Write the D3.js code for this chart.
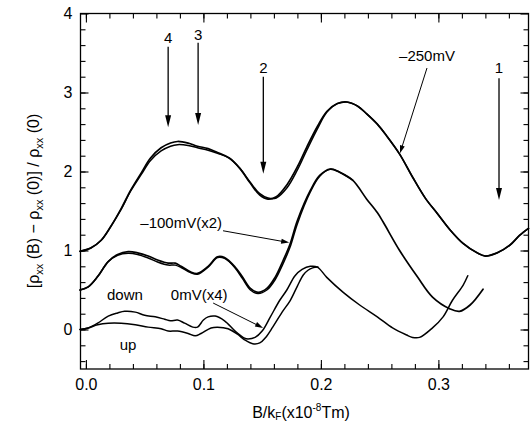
<!DOCTYPE html>
<html><head><meta charset="utf-8">
<script src="https://cdn.jsdelivr.net/npm/d3@7"></script>
<style>
body{margin:0;background:#fff}
svg{display:block}
text{font-family:"Liberation Sans",Arial,Helvetica,sans-serif;fill:#000}
</style>
</head><body>
<svg id="c" width="530" height="429"></svg>
<script>
// ---------- data ----------
const xTicks = [0.0, 0.1, 0.2, 0.3];
const xTickLabels = ["0.0", "0.1", "0.2", "0.3"];
const yTicks = [0, 1, 2, 3, 4];
const yTickLabels = ["0", "1", "2", "3", "4"];
const xMinorTicks = [0,0.02,0.04,0.06,0.08,0.10,0.12,0.14,0.16,0.18,0.20,0.22,0.24,0.26,0.28,0.30,0.32,0.34,0.36];
const yMinorTicks = [-0.4,-0.2,0,0.2,0.4,0.6,0.8,1,1.2,1.4,1.6,1.8,2,2.2,2.4,2.6,2.8,3,3.2,3.4,3.6,3.8];

// -250mV, two sweeps
const m250a = [[-0.005,0.99],[0.004,1.03],[0.013,1.13],[0.021,1.30],[0.030,1.53],[0.038,1.76],[0.047,1.98],[0.055,2.17],[0.064,2.30],[0.072,2.36],[0.078,2.38],[0.087,2.36],[0.095,2.32],[0.104,2.29],[0.112,2.24],[0.122,2.17],[0.131,2.04],[0.140,1.85],[0.148,1.70],[0.155,1.65],[0.162,1.68],[0.171,1.83],[0.180,2.06],[0.188,2.31],[0.197,2.57],[0.205,2.76],[0.214,2.86],[0.222,2.88],[0.231,2.83],[0.239,2.73],[0.248,2.60],[0.256,2.45],[0.267,2.22],[0.278,1.93],[0.289,1.66],[0.299,1.47],[0.310,1.26],[0.321,1.09],[0.333,0.97],[0.340,0.93],[0.350,0.97],[0.361,1.07],[0.369,1.19],[0.3767,1.28]];
const m250b = [[-0.005,0.99],[0.004,1.03],[0.013,1.13],[0.021,1.30],[0.030,1.52],[0.038,1.75],[0.047,1.96],[0.055,2.14],[0.064,2.26],[0.072,2.32],[0.078,2.34],[0.087,2.33],[0.095,2.30],[0.104,2.27],[0.112,2.23],[0.122,2.17],[0.131,2.04],[0.140,1.86],[0.148,1.72],[0.155,1.665],[0.162,1.665],[0.171,1.79],[0.180,2.02],[0.188,2.27],[0.197,2.54],[0.205,2.75],[0.214,2.86],[0.222,2.88],[0.231,2.83],[0.239,2.73],[0.248,2.60],[0.256,2.45],[0.267,2.22],[0.278,1.93],[0.289,1.66],[0.299,1.47],[0.310,1.26],[0.321,1.09],[0.333,0.97],[0.340,0.93],[0.350,0.97],[0.361,1.07],[0.369,1.19],[0.3767,1.28]];

// -100mV (x2), two sweeps
const m100a = [[-0.005,0.50],[0.002,0.54],[0.010,0.67],[0.019,0.86],[0.027,0.95],[0.036,0.985],[0.044,0.97],[0.053,0.93],[0.061,0.88],[0.070,0.84],[0.076,0.84],[0.081,0.80],[0.089,0.73],[0.095,0.71],[0.104,0.80],[0.112,0.92],[0.118,0.91],[0.127,0.79],[0.133,0.67],[0.140,0.52],[0.1465,0.47],[0.154,0.52],[0.161,0.66],[0.168,0.88],[0.1737,1.08],[0.180,1.38],[0.191,1.76],[0.199,1.95],[0.208,2.03],[0.216,1.99],[0.227,1.89],[0.239,1.65],[0.248,1.48],[0.253,1.36],[0.267,1.00],[0.282,0.67],[0.295,0.41],[0.310,0.26],[0.318,0.23],[0.327,0.31],[0.338,0.51]];
const m100b = [[-0.005,0.50],[0.002,0.54],[0.010,0.67],[0.019,0.86],[0.027,0.94],[0.036,0.965],[0.044,0.95],[0.053,0.905],[0.061,0.855],[0.070,0.815],[0.076,0.815],[0.081,0.785],[0.089,0.72],[0.095,0.70],[0.104,0.79],[0.112,0.91],[0.118,0.90],[0.127,0.78],[0.133,0.65],[0.140,0.50],[0.1465,0.455],[0.154,0.50],[0.161,0.63],[0.168,0.84],[0.1737,1.04],[0.180,1.34],[0.191,1.74],[0.199,1.94],[0.208,2.03],[0.216,1.99],[0.227,1.89]];

// 0mV (x4), down and up sweeps
const m0down = [[-0.005,0.0],[0.002,0.02],[0.010,0.08],[0.019,0.17],[0.027,0.21],[0.033,0.23],[0.042,0.22],[0.050,0.18],[0.059,0.16],[0.067,0.13],[0.072,0.11],[0.078,0.12],[0.084,0.08],[0.091,0.03],[0.095,0.03],[0.100,0.12],[0.104,0.16],[0.110,0.17],[0.118,0.11],[0.127,-0.02],[0.135,-0.11],[0.138,-0.12],[0.144,-0.10],[0.150,-0.02],[0.157,0.16],[0.165,0.37],[0.171,0.50],[0.178,0.68],[0.184,0.76],[0.191,0.80],[0.197,0.79],[0.205,0.66],[0.219,0.47],[0.233,0.31],[0.248,0.16],[0.261,0.02],[0.273,-0.07],[0.278,-0.10],[0.284,-0.10],[0.295,0.02],[0.304,0.16],[0.312,0.37],[0.321,0.56],[0.325,0.68]];
const m0up = [[-0.005,0.0],[0.002,0.02],[0.010,0.06],[0.019,0.08],[0.030,0.08],[0.042,0.06],[0.053,0.03],[0.064,0.01],[0.070,-0.02],[0.078,-0.02],[0.087,-0.05],[0.093,-0.08],[0.098,-0.05],[0.1065,0.02],[0.112,0.03],[0.121,0.01],[0.129,-0.06],[0.135,-0.13],[0.142,-0.18],[0.148,-0.17],[0.153,-0.10],[0.159,0.03],[0.167,0.22],[0.174,0.37],[0.180,0.55],[0.185,0.69],[0.189,0.75],[0.193,0.78],[0.1975,0.79]];

// numbered markers: [label, x, labelY, lineTopY, tipY]
const markers = [["4",0.070,3.70,3.58,2.56],["3",0.0955,3.73,3.63,2.59],["2",0.151,3.32,3.20,1.97],["1",0.3516,3.32,3.18,1.64]];
// curve labels: [text, textX, textY, arrowFromX, arrowFromY, tipX, tipY]
const curveLabels = [["\u2013250mV",0.2903,3.47,0.2903,3.31,0.2673,2.23],["\u2013100mV(x2)",0.0811,1.35,0.1167,1.25,0.1730,1.10],["0mV(x4)",0.0964,0.44,0.1083,0.335,0.1508,0.02]];
const sweepLabels = [["down",0.0332,0.44],["up",0.0359,-0.19]];

// ---------- drawing ----------
const svg = d3.select("#c");
const x = d3.scaleLinear().domain([-0.0046, 0.3767]).range([80.5, 528.5]);
const y = d3.scaleLinear().domain([-0.5, 4.0]).range([369, 13.5]);
const X0 = 80.5, X1 = 528.5, Y0 = 369, Y1 = 13.5;

function axisG(axis, tx, ty){
  const g = svg.append("g").attr("transform", `translate(${tx},${ty})`).call(axis);
  g.select(".domain").remove();
  g.selectAll("line").attr("stroke","#000").attr("stroke-width",1.1);
  return g;
}
// minor ticks
axisG(d3.axisBottom(x).tickValues(xMinorTicks).tickSizeInner(-5).tickSizeOuter(0).tickFormat(""), 0, Y0);
axisG(d3.axisTop(x).tickValues(xMinorTicks).tickSizeInner(-5).tickSizeOuter(0).tickFormat(""), 0, Y1);
axisG(d3.axisLeft(y).tickValues(yMinorTicks).tickSizeInner(-5).tickSizeOuter(0).tickFormat(""), X0, 0);
axisG(d3.axisRight(y).tickValues(yMinorTicks).tickSizeInner(-5).tickSizeOuter(0).tickFormat(""), X1, 0);
// major ticks with labels
axisG(d3.axisBottom(x).tickValues(xTicks).tickSizeInner(-9).tickSizeOuter(0).tickPadding(10).tickFormat((d,i)=>xTickLabels[i]), 0, Y0);
axisG(d3.axisTop(x).tickValues(xTicks).tickSizeInner(-9).tickSizeOuter(0).tickFormat(""), 0, Y1);
axisG(d3.axisLeft(y).tickValues(yTicks).tickSizeInner(-8).tickSizeOuter(0).tickPadding(8).tickFormat((d,i)=>yTickLabels[i]), X0, 0);
axisG(d3.axisRight(y).tickValues(yTicks).tickSizeInner(-8).tickSizeOuter(0).tickFormat(""), X1, 0);
svg.selectAll(".tick text").attr("font-size",16).attr("font-family","'Liberation Sans',Arial,sans-serif").attr("fill","#000");

// frame
svg.append("rect").attr("x",X0).attr("y",Y1).attr("width",X1-X0).attr("height",Y0-Y1)
  .attr("fill","none").attr("stroke","#000").attr("stroke-width",1.3);

// curves
const line = d3.line().x(d=>x(d[0])).y(d=>y(d[1])).curve(d3.curveCatmullRom.alpha(0.5));
const curves = [[m250a,1.7],[m250b,1.5],[m100a,1.7],[m100b,1.5],[m0down,1.5],[m0up,1.5]];
svg.append("g").selectAll("path").data(curves).join("path")
  .attr("d", d=>line(d[0])).attr("fill","none").attr("stroke","#000")
  .attr("stroke-width", d=>d[1]).attr("stroke-linejoin","round").attr("stroke-linecap","round");

// arrows
function arrow(x1,y1,x2,y2,len,half,sw){
  const dx=x2-x1, dy=y2-y1, L=Math.hypot(dx,dy), ux=dx/L, uy=dy/L;
  const bx=x2-ux*len, by=y2-uy*len;
  svg.append("line").attr("x1",x1).attr("y1",y1).attr("x2",bx+ux*1).attr("y2",by+uy*1)
    .attr("stroke","#000").attr("stroke-width",sw);
  svg.append("path").attr("d",`M${x2},${y2}L${bx-uy*half},${by+ux*half}L${bx+uy*half},${by-ux*half}Z`).attr("fill","#000");
}
markers.forEach(m=>{
  svg.append("text").attr("x",x(m[1])).attr("y",y(m[2])).attr("dy","0.36em")
    .attr("text-anchor","middle").attr("font-size",15).text(m[0]);
  arrow(x(m[1]),y(m[3]),x(m[1]),y(m[4]),12,3,1.3);
});
curveLabels.forEach(c=>{
  svg.append("text").attr("x",x(c[1])).attr("y",y(c[2])).attr("dy","0.36em")
    .attr("text-anchor","middle").attr("font-size",15).text(c[0]);
  arrow(x(c[3]),y(c[4]),x(c[5]),y(c[6]),8,2.5,1);
});
sweepLabels.forEach(s=>{
  svg.append("text").attr("x",x(s[1])).attr("y",y(s[2])).attr("dy","0.36em")
    .attr("text-anchor","middle").attr("font-size",15).text(s[0]);
});

// axis titles
const xt = svg.append("text").attr("x",301).attr("y",418).attr("text-anchor","middle").attr("font-size",16);
xt.append("tspan").text("B/k");
xt.append("tspan").attr("font-size",10).attr("dy",2).text("F");
xt.append("tspan").attr("dy",-2).text("(x10");
xt.append("tspan").attr("font-size",10).attr("dy",-7).text("-8");
xt.append("tspan").attr("dy",7).text("Tm)");

const yt = svg.append("text").attr("transform","translate(39,201) rotate(-90)").attr("text-anchor","middle").attr("font-size",16);
function rho(first){
  yt.append("tspan").text(first + "\u03C1");
  yt.append("tspan").attr("font-size",11).attr("dy",4).text("xx");
}
rho("[");
yt.append("tspan").attr("dy",-4).text(" (B) \u2212 ");
rho("");
yt.append("tspan").attr("dy",-4).text(" (0)] / ");
rho("");
yt.append("tspan").attr("dy",-4).text(" (0)");
</script>
</body></html>
